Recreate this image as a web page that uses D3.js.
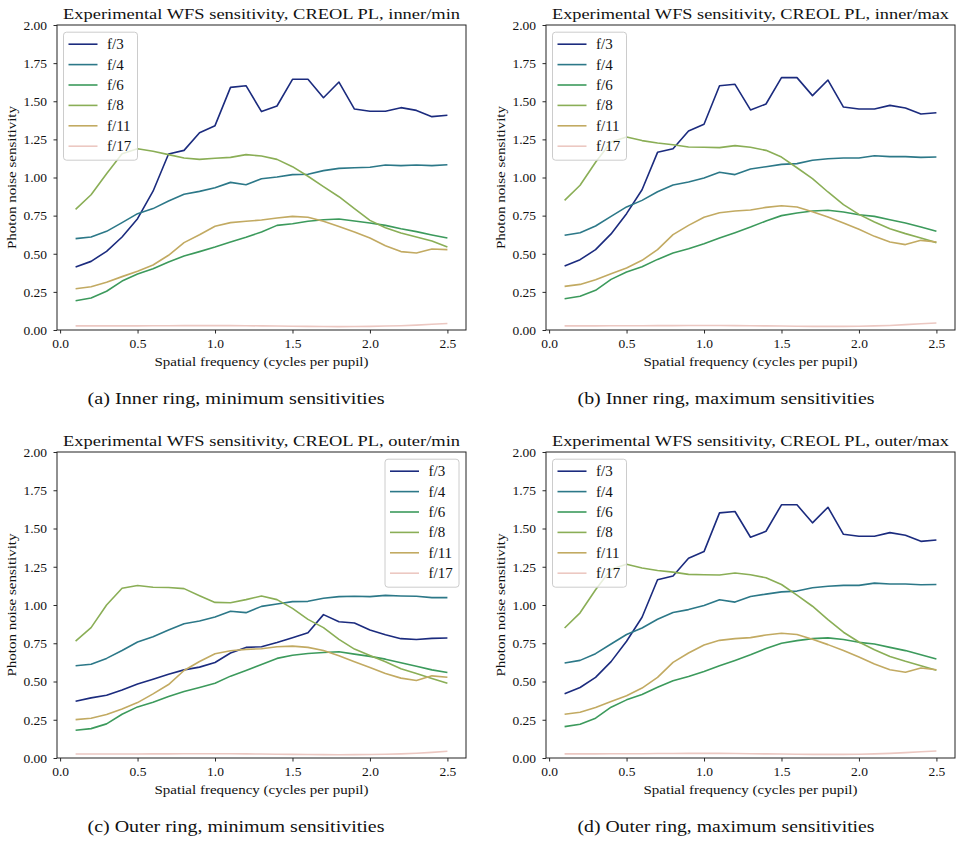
<!DOCTYPE html>
<html>
<head>
<meta charset="utf-8">
<script src="https://cdn.jsdelivr.net/npm/d3@7"></script>
<style>
  body { margin: 0; background: #fff; }
  text { font-family: "Liberation Serif", "DejaVu Serif", serif; fill: #111; }
</style>
</head>
<body>
<script>
// spatial frequency, cycles per pupil
var freqs = [0.1, 0.2, 0.3, 0.4, 0.5, 0.6, 0.7, 0.8, 0.9, 1.0, 1.1, 1.2, 1.3,
             1.4, 1.5, 1.6, 1.7, 1.8, 1.9, 2.0, 2.1, 2.2, 2.3, 2.4, 2.5];

var fNumbers = ["f/3", "f/4", "f/6", "f/8", "f/11", "f/17"];
var colors = ["#1b2b7e", "#2c7888", "#3c9a5c", "#8aae56", "#c2aa62", "#ecc8c2"];

var xTicks = [0.0, 0.5, 1.0, 1.5, 2.0, 2.5];
var yTicks = [0.00, 0.25, 0.50, 0.75, 1.00, 1.25, 1.50, 1.75, 2.00];

// inner ring, minimum sensitivities (one row per f-number)
var innerMin = [
  [0.413, 0.450, 0.516, 0.610, 0.730, 0.910, 1.154, 1.178, 1.294, 1.340, 1.591, 1.602, 1.432,
   1.469, 1.644, 1.644, 1.523, 1.626, 1.449, 1.434, 1.434, 1.458, 1.440, 1.399, 1.408],
  [0.599, 0.610, 0.647, 0.704, 0.763, 0.796, 0.846, 0.890, 0.909, 0.933, 0.968, 0.953, 0.992,
   1.003, 1.019, 1.021, 1.045, 1.060, 1.064, 1.067, 1.082, 1.078, 1.082, 1.078, 1.084],
  [0.192, 0.210, 0.254, 0.321, 0.367, 0.402, 0.446, 0.485, 0.514, 0.544, 0.577, 0.608, 0.643,
   0.686, 0.697, 0.713, 0.723, 0.728, 0.715, 0.702, 0.686, 0.664, 0.645, 0.623, 0.603],
  [0.791, 0.887, 1.025, 1.156, 1.189, 1.172, 1.150, 1.128, 1.119, 1.126, 1.132, 1.150, 1.141,
   1.119, 1.071, 1.008, 0.940, 0.874, 0.796, 0.719, 0.671, 0.636, 0.610, 0.584, 0.544],
  [0.271, 0.284, 0.313, 0.350, 0.385, 0.426, 0.490, 0.573, 0.625, 0.680, 0.704, 0.713, 0.721,
   0.734, 0.745, 0.739, 0.713, 0.678, 0.643, 0.603, 0.553, 0.514, 0.505, 0.531, 0.527],
  [0.027, 0.027, 0.027, 0.027, 0.027, 0.028, 0.028, 0.029, 0.029, 0.029, 0.029, 0.028, 0.027,
   0.026, 0.025, 0.024, 0.023, 0.022, 0.023, 0.024, 0.026, 0.028, 0.032, 0.038, 0.043]
];

// inner ring, maximum sensitivities
var innerMax = [
  [0.420, 0.461, 0.527, 0.630, 0.763, 0.920, 1.165, 1.189, 1.305, 1.349, 1.602, 1.611, 1.443,
   1.482, 1.655, 1.655, 1.537, 1.639, 1.462, 1.449, 1.449, 1.473, 1.456, 1.416, 1.425],
  [0.621, 0.638, 0.682, 0.745, 0.807, 0.850, 0.907, 0.951, 0.970, 0.997, 1.034, 1.019, 1.056,
   1.071, 1.086, 1.091, 1.113, 1.123, 1.128, 1.128, 1.143, 1.137, 1.137, 1.132, 1.134],
  [0.205, 0.221, 0.260, 0.332, 0.380, 0.415, 0.463, 0.505, 0.533, 0.566, 0.603, 0.638, 0.675,
   0.715, 0.750, 0.767, 0.780, 0.785, 0.774, 0.756, 0.745, 0.723, 0.702, 0.675, 0.647],
  [0.850, 0.949, 1.100, 1.233, 1.266, 1.242, 1.226, 1.215, 1.200, 1.198, 1.196, 1.209, 1.198,
   1.178, 1.134, 1.064, 0.992, 0.905, 0.822, 0.758, 0.708, 0.664, 0.632, 0.603, 0.573],
  [0.286, 0.299, 0.330, 0.369, 0.407, 0.457, 0.527, 0.625, 0.686, 0.739, 0.769, 0.780, 0.787,
   0.804, 0.815, 0.807, 0.776, 0.741, 0.702, 0.660, 0.614, 0.577, 0.560, 0.588, 0.577],
  [0.027, 0.027, 0.027, 0.028, 0.028, 0.028, 0.029, 0.029, 0.030, 0.030, 0.030, 0.029, 0.028,
   0.027, 0.026, 0.025, 0.024, 0.024, 0.024, 0.025, 0.027, 0.030, 0.035, 0.041, 0.046]
];

// outer ring, minimum sensitivities
var outerMin = [
  [0.371, 0.393, 0.410, 0.445, 0.483, 0.515, 0.548, 0.576, 0.594, 0.624, 0.686, 0.723, 0.727,
   0.755, 0.786, 0.819, 0.937, 0.891, 0.882, 0.836, 0.806, 0.780, 0.775, 0.782, 0.784],
  [0.603, 0.613, 0.651, 0.703, 0.758, 0.793, 0.836, 0.878, 0.895, 0.921, 0.959, 0.950, 0.991,
   1.007, 1.022, 1.024, 1.044, 1.055, 1.057, 1.055, 1.063, 1.059, 1.057, 1.048, 1.048],
  [0.181, 0.192, 0.223, 0.286, 0.334, 0.365, 0.402, 0.434, 0.461, 0.489, 0.535, 0.572, 0.611,
   0.651, 0.672, 0.683, 0.690, 0.694, 0.679, 0.664, 0.646, 0.622, 0.600, 0.576, 0.559],
  [0.764, 0.852, 1.000, 1.109, 1.127, 1.116, 1.114, 1.107, 1.061, 1.017, 1.015, 1.035, 1.059,
   1.035, 0.978, 0.906, 0.852, 0.775, 0.712, 0.670, 0.629, 0.583, 0.552, 0.520, 0.489],
  [0.251, 0.260, 0.284, 0.321, 0.362, 0.419, 0.480, 0.572, 0.631, 0.681, 0.701, 0.710, 0.714,
   0.727, 0.731, 0.723, 0.703, 0.668, 0.629, 0.592, 0.552, 0.522, 0.507, 0.537, 0.528],
  [0.026, 0.026, 0.026, 0.026, 0.026, 0.027, 0.027, 0.028, 0.028, 0.028, 0.028, 0.027, 0.026,
   0.025, 0.024, 0.023, 0.022, 0.021, 0.022, 0.023, 0.025, 0.027, 0.031, 0.037, 0.044]
];

// outer ring, maximum sensitivities (reads the same as the inner ring max)
var outerMax = innerMax;

var panels = [
  {left: 57, top: 25, right: 466, bottom: 330, capX: 236, legend: "left",
   title: "Experimental WFS sensitivity, CREOL PL, inner/min",
   caption: "(a) Inner ring, minimum sensitivities", data: innerMin},
  {left: 546, top: 25, right: 955, bottom: 330, capX: 726, legend: "left",
   title: "Experimental WFS sensitivity, CREOL PL, inner/max",
   caption: "(b) Inner ring, maximum sensitivities", data: innerMax},
  {left: 57, top: 452, right: 466, bottom: 758, capX: 236, legend: "right",
   title: "Experimental WFS sensitivity, CREOL PL, outer/min",
   caption: "(c) Outer ring, minimum sensitivities", data: outerMin},
  {left: 546, top: 452, right: 955, bottom: 758, capX: 726, legend: "left",
   title: "Experimental WFS sensitivity, CREOL PL, outer/max",
   caption: "(d) Outer ring, maximum sensitivities", data: outerMax}
];

var svg = d3.select("body").append("svg")
  .attr("width", 962)
  .attr("height", 841);

panels.forEach(function(p) {
  var x = d3.scaleLinear().domain([-0.02, 2.62]).range([p.left, p.right]);
  var y = d3.scaleLinear().domain([0, 2]).range([p.bottom, p.top]);
  var g = svg.append("g");
  var cx = (p.left + p.right) / 2;

  // lines
  var line = d3.line()
    .x(function(d, i) { return x(freqs[i]); })
    .y(function(d) { return y(d); });
  p.data.forEach(function(series, k) {
    g.append("path")
      .attr("d", line(series))
      .attr("fill", "none")
      .attr("stroke", colors[k])
      .attr("stroke-width", 1.6)
      .attr("stroke-linejoin", "round");
  });

  // axes
  var xAxis = g.append("g")
    .attr("transform", "translate(0," + p.bottom + ")")
    .call(d3.axisBottom(x).tickValues(xTicks).tickFormat(d3.format(".1f"))
      .tickSize(3.5).tickSizeOuter(0).tickPadding(5));
  var yAxis = g.append("g")
    .attr("transform", "translate(" + p.left + ",0)")
    .call(d3.axisLeft(y).tickValues(yTicks).tickFormat(d3.format(".2f"))
      .tickSize(3.5).tickSizeOuter(0).tickPadding(6.5));
  [xAxis, yAxis].forEach(function(a) {
    a.attr("font-family", null);
    a.select(".domain").remove();
    a.selectAll("text").style("font-size", "13.5px")
      .style("font-family", "'Liberation Serif', serif").attr("fill", "#111");
    a.selectAll("line").attr("stroke", "#111").attr("stroke-width", 0.9);
  });

  g.append("rect")
    .attr("x", p.left).attr("y", p.top)
    .attr("width", p.right - p.left).attr("height", p.bottom - p.top)
    .attr("fill", "none").attr("stroke", "#222").attr("stroke-width", 1);

  // legend
  var lw = 74, lh = 128;
  var lx = p.legend === "left" ? p.left + 6.5 : p.right - 7 - lw;
  var ly = p.top + 7.2;
  var leg = g.append("g").attr("transform", "translate(" + lx + "," + ly + ")");
  leg.append("rect")
    .attr("width", lw).attr("height", lh).attr("rx", 3)
    .attr("fill", "#fff").attr("fill-opacity", 0.8)
    .attr("stroke", "#cccccc").attr("stroke-width", 1);
  fNumbers.forEach(function(name, k) {
    var ry = 12 + k * 20.4;
    leg.append("line")
      .attr("x1", 5).attr("x2", 34)
      .attr("y1", ry).attr("y2", ry)
      .attr("stroke", colors[k]).attr("stroke-width", 1.6);
    leg.append("text")
      .attr("x", 43.5).attr("y", ry + 5)
      .style("font-size", "15px")
      .style("font-family", "'Liberation Serif', serif")
      .text(name);
  });

  // titles and labels
  g.append("text")
    .attr("x", cx).attr("y", p.top - 6.5)
    .attr("text-anchor", "middle")
    .attr("textLength", 397).attr("lengthAdjust", "spacingAndGlyphs")
    .style("font-size", "15.5px")
    .text(p.title);

  g.append("text")
    .attr("x", cx).attr("y", p.bottom + 35.5)
    .attr("text-anchor", "middle")
    .attr("textLength", 214).attr("lengthAdjust", "spacingAndGlyphs")
    .style("font-size", "13.5px")
    .text("Spatial frequency (cycles per pupil)");

  g.append("text")
    .attr("transform", "translate(" + (p.left - 41) + "," + ((p.top + p.bottom) / 2) + ") rotate(-90)")
    .attr("text-anchor", "middle")
    .attr("textLength", 143).attr("lengthAdjust", "spacingAndGlyphs")
    .style("font-size", "13.5px")
    .text("Photon noise sensitivity");

  g.append("text")
    .attr("x", p.capX).attr("y", p.bottom + 74)
    .attr("text-anchor", "middle")
    .attr("textLength", 297).attr("lengthAdjust", "spacingAndGlyphs")
    .style("font-size", "17px")
    .text(p.caption);
});
</script>
</body>
</html>
